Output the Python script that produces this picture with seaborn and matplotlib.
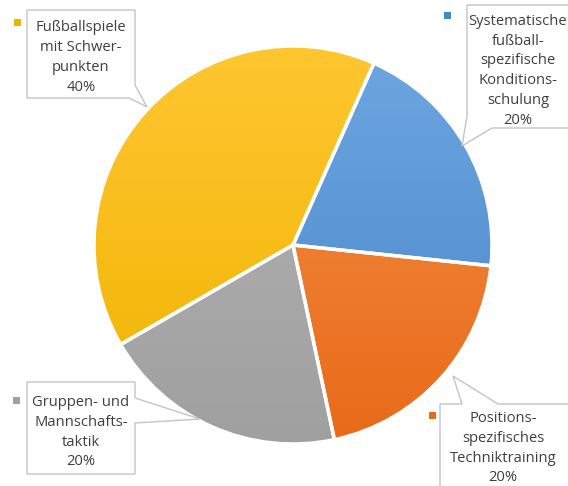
import matplotlib
matplotlib.use("Agg")
import matplotlib.pyplot as plt
import seaborn as sns
import numpy as np
from matplotlib.patches import Polygon, Rectangle
from matplotlib.colors import to_rgb

sns.set_theme(style="white")
plt.rcParams['font.family'] = ['Open Sans', 'DejaVu Sans']

# ---- data ----
categories = [
    "Systematische\nfußball-\nspezifische\nKonditions-\nschulung",
    "Positions-\nspezifisches\nTechniktraining",
    "Gruppen- und\nMannschafts-\ntaktik",
    "Fußballspiele\nmit Schwer-\npunkten",
]
shares = [20, 20, 20, 40]
top_colors = ["#6EA6E0", "#F3914B", "#B4B4B4", "#FFC631"]
bottom_colors = ["#4786CB", "#E96A17", "#A0A0A0", "#F0B400"]

W, H = 568, 486
fig = plt.figure(figsize=(W / 100, H / 100), dpi=100)
ax = fig.add_axes([0, 0, 1, 1])
ax.set_xlim(0, W)
ax.set_ylim(0, H)
ax.set_aspect("equal")
ax.axis("off")

cx, cy, r = 293, H - 245, 199
wedges, _ = ax.pie(shares, startangle=66, counterclock=False, center=(cx, cy),
                   radius=r, colors=bottom_colors,
                   wedgeprops=dict(edgecolor="white", linewidth=2.5), frame=True)
ax.set_xlim(0, W)
ax.set_ylim(0, H)
ax.axis("off")

# vertical gradient for each wedge
n = 256
t = np.linspace(0, 1, n)[:, None]
for w, c1, c2 in zip(wedges, top_colors, bottom_colors):
    a, b = np.array(to_rgb(c1)), np.array(to_rgb(c2))
    img = (a[None, None, :] * (1 - t[:, :, None]) + b[None, None, :] * t[:, :, None])
    img = np.repeat(img, 2, axis=1)
    im = ax.imshow(img, extent=(cx - r, cx + r, cy - r, cy + r), origin="upper",
                   aspect="auto", zorder=w.get_zorder() + 0.1)
    im.set_clip_path(w)
    w.set_facecolor("none")
    w.set_zorder(w.get_zorder() + 0.2)

def Y(y):
    return H - y

txt_color = "#3F3F3F"
box_kw = dict(facecolor="white", edgecolor="#C4C4C4", linewidth=1.0, zorder=5)

callouts = [
    # blue
    dict(poly=[(467, 5), (580, 5), (580, 128), (492, 128), (462, 146), (467, 116)],
         tx=518, ty=[22, 42, 61, 81, 101, 120], mk=(447, 16)),
    # orange
    dict(poly=[(440, 404), (462, 404), (453, 376), (498, 404), (580, 404), (580, 500), (440, 500)],
         tx=503, ty=[418, 438, 458, 477], mk=(432, 415)),
    # gray
    dict(poly=[(27, 382), (135, 382), (135, 398), (200, 419), (135, 423), (135, 474), (27, 474)],
         tx=81, ty=[402, 422, 442, 461], mk=(16, 400)),
    # yellow
    dict(poly=[(27, 10), (135, 10), (135, 85), (147, 107), (129, 98), (27, 98)],
         tx=81, ty=[28, 48, 68, 88], mk=(17, 23)),
]

for cat, val, col, co in zip(categories, shares, bottom_colors, callouts):
    ax.add_patch(Polygon([(x, Y(y)) for x, y in co["poly"]], closed=True, **box_kw))
    lines = cat.split("\n") + [f"{val}%"]
    for line, yy in zip(lines, co["ty"]):
        ax.text(co["tx"], Y(yy), line, ha="center", va="center", fontsize=10.6,
                color=txt_color, zorder=6)
    mx, my = co["mk"]
    ax.add_patch(Rectangle((mx - 3.5, Y(my) - 3.5), 7, 7, facecolor=col,
                           edgecolor="none", zorder=6))

fig.savefig("out.png", dpi=100)
